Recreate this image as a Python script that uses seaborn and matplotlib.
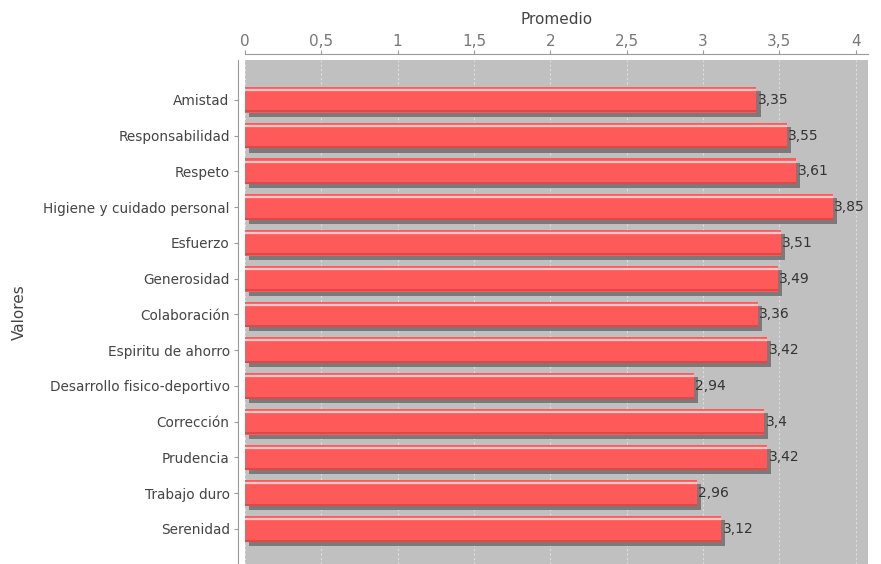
import matplotlib
matplotlib.use('Agg')
import matplotlib.pyplot as plt
import matplotlib.patheffects as pe
import seaborn as sns
import pandas as pd
import numpy as np

# datos
valores = ['Amistad', 'Responsabilidad', 'Respeto', 'Higiene y cuidado personal',
           'Esfuerzo', 'Generosidad', 'Colaboración', 'Espiritu de ahorro',
           'Desarrollo fisico-deportivo', 'Corrección', 'Prudencia',
           'Trabajo duro', 'Serenidad']
promedios = [3.35, 3.55, 3.61, 3.85, 3.51, 3.49, 3.36, 3.42, 2.94, 3.40, 3.42, 2.96, 3.12]
ticks = [0, 0.5, 1, 1.5, 2, 2.5, 3, 3.5, 4]

df = pd.DataFrame({'Valores': valores, 'Promedio': promedios})

sns.set_style('white')
plt.rcParams['font.family'] = ['DejaVu Sans']

fig = plt.figure(figsize=(8.81, 5.64), dpi=100)
ax = fig.add_axes([0.278, 0.0, 0.707, 0.894])
ax.set_facecolor('#c0c0c0')

sns.barplot(data=df, x='Promedio', y='Valores', color='#ff5a5a', saturation=1,
            width=0.72, orient='h', ax=ax, zorder=3)

for p in ax.patches:
    p.set_edgecolor('none')
    p.set_path_effects([pe.SimplePatchShadow(offset=(3, -3), shadow_rgbFace='#7a7a7a', alpha=1.0),
                        pe.Normal()])
    # brillo superior de la barra
    y0 = p.get_y() + p.get_height() * 0.12
    ax.plot([0, p.get_width()], [y0, y0], color='#ffc8c8', lw=1.6, zorder=4,
            solid_capstyle='butt')
    # borde inferior mas oscuro
    y1 = p.get_y() + p.get_height() * 0.95
    ax.plot([0, p.get_width()], [y1, y1], color='#e04848', lw=1.5, zorder=4,
            solid_capstyle='butt')

for i, v in enumerate(promedios):
    ax.text(v + 0.01, i, f'{v:g}'.replace('.', ','), va='center', ha='left',
            fontsize=10, color='#333333', zorder=5)

ax.set_xlim(0, 4.08)
ax.set_ylim(12.98, -1.12)
ax.set_xticks(ticks)
ax.set_xticklabels([f'{t:g}'.replace('.', ',') for t in ticks])
ax.xaxis.tick_top()
ax.xaxis.set_label_position('top')
ax.set_xlabel('Promedio', fontsize=11, color='#444444', labelpad=7)
ax.set_ylabel('Valores', fontsize=11, color='#444444', labelpad=12)

ax.tick_params(axis='x', colors='#999999', labelcolor='#777777', labelsize=11,
               length=3, pad=1, top=True, bottom=False)
ax.tick_params(axis='y', colors='#999999', labelcolor='#444444', labelsize=9.8,
               length=3, pad=3, left=True)

ax.grid(axis='x', color='#dddddd', linestyle=(0, (2, 2)), linewidth=0.8, zorder=1)
ax.set_axisbelow(True)

for s in ['bottom', 'right']:
    ax.spines[s].set_visible(False)
ax.spines['top'].set_position(('outward', 4))
ax.spines['left'].set_position(('outward', 5))
ax.spines['top'].set_color('#999999')
ax.spines['left'].set_color('#999999')

fig.savefig('out.png', dpi=100)
